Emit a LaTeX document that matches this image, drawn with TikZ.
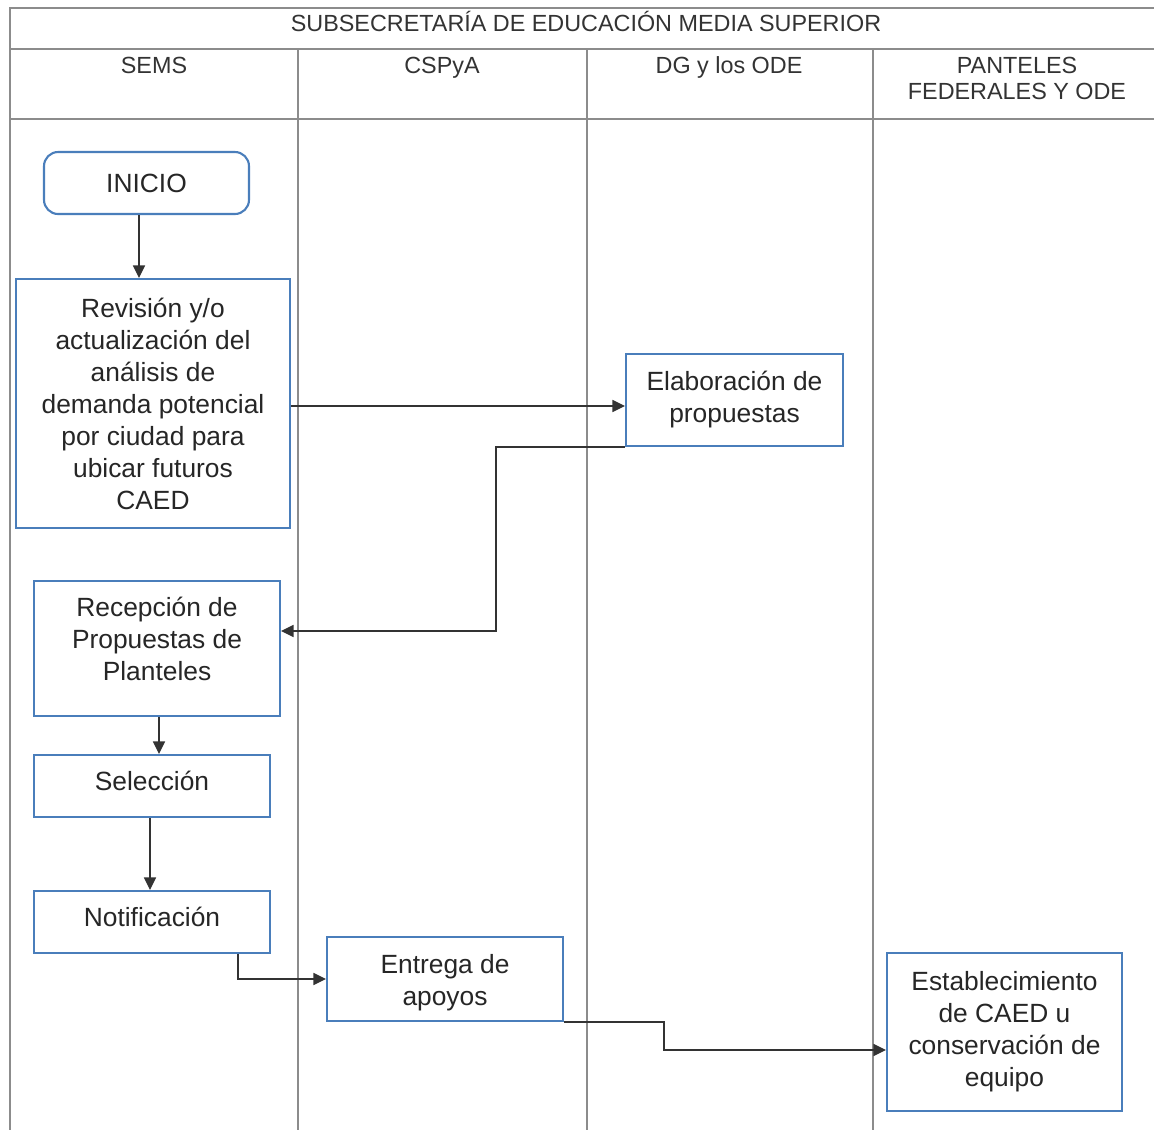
\documentclass[tikz,border=0pt]{standalone}
\usepackage{fontspec}
\setmainfont{Liberation Sans}
\usetikzlibrary{arrows.meta}
\definecolor{boxblue}{HTML}{4A7EBB}
\definecolor{lanegray}{HTML}{8C8C8C}
\begin{document}
\begin{tikzpicture}[x=0.02cm,y=-0.02cm,
  lane/.style={draw=lanegray, line width=0.6pt},
  box/.style={draw=boxblue, line width=1.2pt, align=center, inner sep=2pt,
    font=\fontsize{15}{18.2}\selectfont, text=black!85},
  hdr/.style={font=\fontsize{13.3}{14.7}\selectfont, align=center, text=black!80, inner sep=0pt, anchor=base},
  flow/.style={draw=black!80, line width=0.7pt, -{Triangle[length=0.25cm,width=0.24cm]}}]
\useasboundingbox (0,0) rectangle (1154,1130);
\fill[white] (0,0) rectangle (1154,1130);
% swimlane frame
\draw[lane] (1154,8) -- (10,8) -- (10,1130);
\draw[lane] (10,49) -- (1154,49);
\draw[lane] (10,119) -- (1154,119);
\draw[lane] (298,49) -- (298,1130);
\draw[lane] (587,49) -- (587,1130);
\draw[lane] (873,49) -- (873,1130);
% headers
\node[hdr] (title) at (586,31) {SUBSECRETARÍA DE EDUCACIÓN MEDIA SUPERIOR};
\node[hdr] (h1) at (154,73) {SEMS};
\node[hdr] (h2) at (442,73) {CSPyA};
\node[hdr] (h3) at (729,73) {DG y los ODE};
\node[hdr, anchor=north] (h4) at (1017,57) {PANTELES\\FEDERALES Y ODE};
% process nodes
\node[box, rounded corners=8pt, minimum width=4.1cm, minimum height=1.24cm] (ini) at (146.5,183) {INICIO};
\node[box, minimum width=5.48cm, minimum height=4.98cm] (rev) at (153,403.5)
  {Revisión y/o\\actualización del\\análisis de\\demanda potencial\\por ciudad para\\ubicar futuros\\CAED};
\node[box, minimum width=4.34cm, minimum height=1.84cm] (elab) at (734.5,400) {Elaboración de\\propuestas};
\node[box, minimum width=4.92cm, minimum height=2.7cm] (rec) at (157,648.5)
  {Recepción de\\Propuestas de\\Planteles\rule[-0.4cm]{0pt}{0pt}};
\node[box, minimum width=4.72cm, minimum height=1.24cm] (sel) at (152,786) {Selección\rule[-0.2cm]{0pt}{0pt}};
\node[box, minimum width=4.72cm, minimum height=1.24cm] (notif) at (152,922) {Notificación\rule[-0.2cm]{0pt}{0pt}};
\node[box, minimum width=4.72cm, minimum height=1.68cm] (ent) at (445,979) {\rule{0pt}{15.5pt}Entrega de\\apoyos};
\node[box, minimum width=4.7cm, minimum height=3.16cm] (est) at (1004.5,1032)
  {Establecimiento\\de CAED u\\conservación de\\equipo};
% connectors
\draw[flow] (ini.south -| 139,0) -- (rev.north -| 139,0);
\draw[flow] (rev.east |- 0,406) -- (elab.west |- 0,406);
\draw[flow] (elab.south west) -- (elab.south west -| 496,0) |- (rec.east |- 0,631);
\draw[flow] (rec.south -| 159,0) -- (sel.north -| 159,0);
\draw[flow] (sel.south -| 150,0) -- (notif.north -| 150,0);
\draw[flow] (notif.south -| 238,0) |- (ent.west);
\draw[flow] (ent.south east) -- (ent.south east -| 664,0) |- (est.west |- 0,1050);
\end{tikzpicture}
\end{document}
